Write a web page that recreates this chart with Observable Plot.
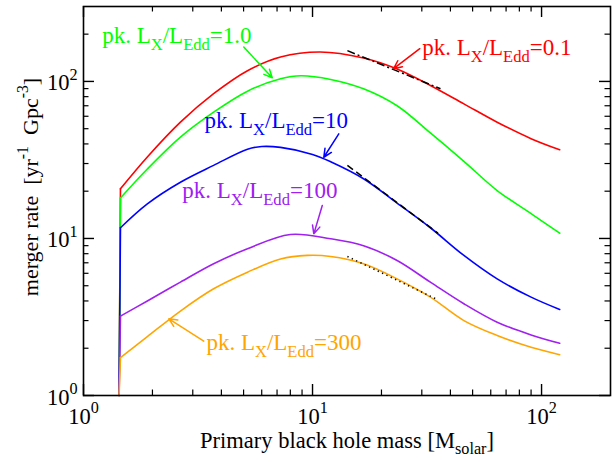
<!DOCTYPE html>
<html>
<head>
<meta charset="utf-8">
<script src="https://cdn.jsdelivr.net/npm/d3@7"></script>
<script src="https://cdn.jsdelivr.net/npm/@observablehq/plot@0.6"></script>
<style>
html,body{margin:0;padding:0;background:#fff;}
#chart svg{display:block;font-family:"Liberation Serif","Times New Roman",serif;}
</style>
</head>
<body>
<div id="chart"></div>
<script>
// ---------------- data ----------------
const seriesKeys   = ["0.1", "1.0", "10", "100", "300"];
const seriesColors = ["#ff0000", "#00ff00", "#0000ff", "#a020f0", "#ffa500"];

// first point of each list = where the curve leaves the bottom axis
const massRed    = [1.43, 1.45, 1.9, 2.65, 3.7, 5.2, 7.25, 10.8, 16.7, 23.4, 32.7, 45.8, 64, 90, 120];
const rateRed    = [1,    20.7, 33,  55,   83.5, 117, 143,  154,  141,  120,  94.3, 72,   55, 43.2, 36.7];

const massGreen  = [1.43, 1.45, 1.9, 2.65, 3.7, 5.2, 7.25, 8.9, 12, 16.7, 23.4, 32.7, 45.8, 64, 90, 120];
const rateGreen  = [1,    18.1, 27.7, 44.2, 63.7, 86.7, 104, 108.7, 103, 89.8, 70, 47, 31, 20.2, 14.4, 10.8];

const massBlue   = [1.43, 1.45, 1.9, 2.65, 3.7, 5.2, 6.0, 7.25, 10, 12, 16.7, 23.4, 32.7, 45.8, 64, 90, 120];
const rateBlue   = [1,    11.7, 16.6, 22.8, 29.2, 37.0, 38.5, 38.0, 34.3, 30.8, 24.0, 16.8, 11.7, 7.8, 5.53, 4.23, 3.53];

const massPurple = [1.43, 1.45, 1.9, 2.65, 3.7, 5.2, 8.0, 12, 16.7, 23.4, 32.7, 45.8, 64, 90, 120];
const ratePurple = [1,    3.2,  4.0, 5.27, 6.9, 8.6, 10.6, 9.95, 9.0, 7.24, 5.27, 3.84, 2.93, 2.43, 2.15];

const massOrange = [1.43, 1.45, 1.9, 2.65, 3.7, 5.2, 7.25, 9.5, 12, 16.7, 23.4, 32.7, 45.8, 64, 90, 120];
const rateOrange = [1,    1.74, 2.37, 3.45, 4.78, 6.1, 7.4, 7.8, 7.68, 6.9, 5.53, 4.23, 3.0, 2.41, 2.03, 1.82];

// black fit segments
const fitMass = [[14.2, 36.2], [14.2, 35.3], [14.2, 35.0]];
const fitRate = [[157, 89.8], [29.2, 10.8], [7.68, 4.09]];
const fitDash = ["8,3,2,3", "7,4", "1.3,3.5"];

// annotations
const labelText = ["pk. L_{X}/L_{Edd}=0.1", "pk. L_{X}/L_{Edd}=1.0", "pk. L_{X}/L_{Edd}=10",
                   "pk. L_{X}/L_{Edd}=100", "pk. L_{X}/L_{Edd}=300"];
const labelMass = [30.1, 1.207, 3.375, 2.70, 3.44];
const labelRate = [146.5, 174.6, 50.2, 18.06, 1.955];
const arrowFromMass = [29.4, 5.01, 13.02, 11.03, 3.35];
const arrowFromRate = [161.6, 165.4, 46.4, 16.2, 2.22];
const arrowToMass   = [22.6, 6.67, 11.2, 10.13, 2.36];
const arrowToRate   = [120.5, 105.6, 32.9, 10.7, 3.08];

// axes
const xDomain = [1, 200];
const yDomain = [1, 300];
const xMajor = [1, 10, 100];
const xMinor = [2, 3, 4, 5, 6, 7, 8, 9, 20, 30, 40, 50, 60, 70, 80, 90];
const yMajor = [1, 10, 100];
const yMinor = [2, 3, 4, 5, 6, 7, 8, 9, 20, 30, 40, 50, 60, 70, 80, 90, 200];
const xTitle = "Primary black hole mass [M_{solar}]";
const yTitle = "merger rate  [yr^{-1}  Gpc^{-3}]";

// ---------------- build ----------------
const W = 612, H = 462;
const mT = 6, mR = 2, mB = 67, mL = 83;
const innerH = H - mT - mB, innerW = W - mL - mR;
const majorLen = 11, minorLen = 5.5;

const masses = [massRed, massGreen, massBlue, massPurple, massOrange];
const rates  = [rateRed, rateGreen, rateBlue, ratePurple, rateOrange];
const rows = [];
masses.forEach((ms, s) => ms.forEach((m, i) => rows.push({s: seriesKeys[s], i, m, r: rates[s][i]})));
const onsetRows = rows.filter(d => d.i <= 1);
const curveRows = rows.filter(d => d.i >= 1);

const fits = fitMass.map((ms, k) => ({k, x1: ms[0], x2: ms[1], y1: fitRate[k][0], y2: fitRate[k][1], dash: fitDash[k]}));
const labels = labelText.map((t, k) => ({t, m: labelMass[k], r: labelRate[k], c: seriesColors[k]}));
const arrows = arrowFromMass.map((m, k) => ({x1: m, y1: arrowFromRate[k], x2: arrowToMass[k], y2: arrowToRate[k], c: seriesColors[k]}));

const colorScale = {domain: seriesKeys, range: seriesColors};

const marks = [
  // ticks (inside, on all four sides)
  Plot.tickX(xMajor, {x: d => d, insetTop: innerH - majorLen, stroke: "black", strokeWidth: 1.4}),
  Plot.tickX(xMajor, {x: d => d, insetBottom: innerH - majorLen, stroke: "black", strokeWidth: 1.4}),
  Plot.tickX(xMinor, {x: d => d, insetTop: innerH - minorLen, stroke: "black", strokeWidth: 1.2}),
  Plot.tickX(xMinor, {x: d => d, insetBottom: innerH - minorLen, stroke: "black", strokeWidth: 1.2}),
  Plot.tickY(yMajor, {y: d => d, insetRight: innerW - majorLen, stroke: "black", strokeWidth: 1.4}),
  Plot.tickY(yMajor, {y: d => d, insetLeft: innerW - majorLen, stroke: "black", strokeWidth: 1.4}),
  Plot.tickY(yMinor, {y: d => d, insetRight: innerW - minorLen, stroke: "black", strokeWidth: 1.2}),
  Plot.tickY(yMinor, {y: d => d, insetLeft: innerW - minorLen, stroke: "black", strokeWidth: 1.2}),
  // curves
  Plot.line(onsetRows, {x: "m", y: "r", z: "s", stroke: "s", strokeWidth: 1.6, curve: "linear"}),
  Plot.line(curveRows, {x: "m", y: "r", z: "s", stroke: "s", strokeWidth: 1.6, curve: "catmull-rom"}),
  // fit segments
  ...fits.map(f => Plot.link([f], {x1: "x1", y1: "y1", x2: "x2", y2: "y2", stroke: "black", strokeWidth: 1.5, strokeDasharray: f.dash})),
  // arrows
  Plot.arrow(arrows, {x1: "x1", y1: "y1", x2: "x2", y2: "y2", stroke: d => d.c, strokeWidth: 1.5, headLength: 9, headAngle: 50}),
  // labels
  Plot.text(labels, {x: "m", y: "r", text: "t", fill: d => d.c, textAnchor: "start", lineAnchor: "bottom", fontSize: 23}),
  // tick labels
  Plot.text(xMajor, {x: d => d, text: d => "10^{" + Math.round(Math.log10(d)) + "}", frameAnchor: "bottom", dy: 28, lineAnchor: "bottom", textAnchor: "middle", fontSize: 22.5, fill: "black"}),
  Plot.text(yMajor, {y: d => d, text: d => "10^{" + Math.round(Math.log10(d)) + "}", frameAnchor: "left", dx: -6, dy: 9, lineAnchor: "bottom", textAnchor: "end", fontSize: 22.5, fill: "black"}),
  // axis titles
  Plot.text([xTitle], {frameAnchor: "bottom", dy: 52, lineAnchor: "bottom", textAnchor: "middle", fontSize: 22.5, fill: "black"}),
  Plot.text([yTitle], {frameAnchor: "left", dx: -46, dy: -14, rotate: -90, lineAnchor: "bottom", textAnchor: "middle", fontSize: 22, fill: "black"}),
  Plot.frame({stroke: "black", strokeWidth: 1.6})
];

const chart = Plot.plot({
  width: W, height: H,
  marginTop: mT, marginRight: mR, marginBottom: mB, marginLeft: mL,
  style: {background: "white", fontFamily: "'Liberation Serif','Times New Roman',serif", overflow: "visible"},
  x: {type: "log", domain: xDomain, axis: null},
  y: {type: "log", domain: yDomain, axis: null},
  color: colorScale,
  marks
});
document.getElementById("chart").appendChild(chart);

// rich text: ^{...} superscript, _{...} subscript
function richify(svg) {
  const NS = "http://www.w3.org/2000/svg";
  svg.querySelectorAll("text").forEach(t => {
    const s = t.textContent;
    t.style.whiteSpace = "pre";
    if (!/[\^_]\{/.test(s)) return;
    const fs = parseFloat(getComputedStyle(t).fontSize) || 20;
    t.textContent = "";
    const re = /([\^_])\{([^}]*)\}|([^\^_]+)/g;
    let m, off = 0;
    while ((m = re.exec(s))) {
      const ts = document.createElementNS(NS, "tspan");
      let target;
      if (m[1]) {
        target = m[1] === "^" ? -0.45 * fs : 0.3 * fs;
        ts.setAttribute("font-size", (0.72 * fs).toFixed(2));
        ts.textContent = m[2];
      } else {
        target = 0;
        ts.textContent = m[3];
      }
      if (target !== off) { ts.setAttribute("dy", (target - off).toFixed(2)); off = target; }
      ts.style.whiteSpace = "pre";
      t.appendChild(ts);
    }
  });
}
richify(chart);
</script>
</body>
</html>
